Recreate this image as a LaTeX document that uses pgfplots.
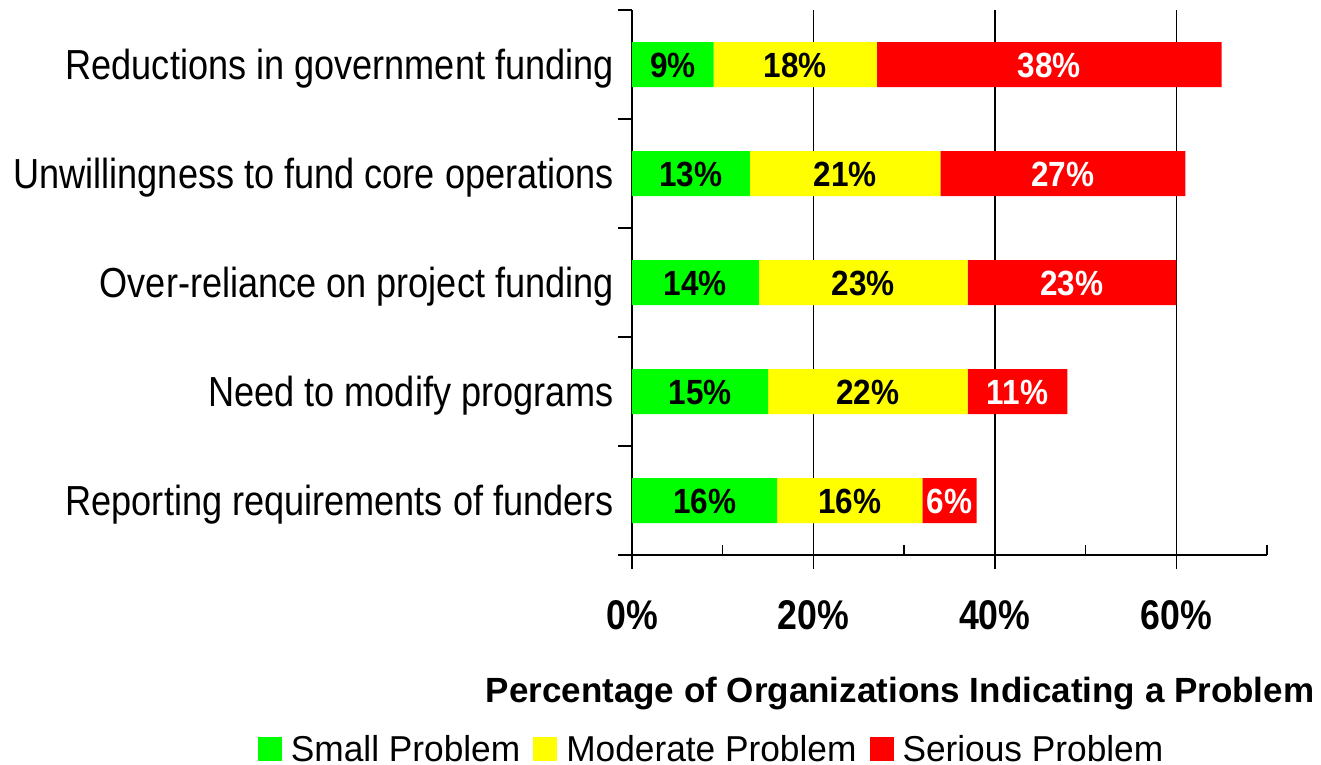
\documentclass[border=0pt]{standalone}
\usepackage{fontspec}
\setmainfont{Liberation Sans}
\newfontfamily\catfont[FakeStretch=0.86]{Liberation Sans}
\newfontfamily\barfont[FakeStretch=0.9]{Liberation Sans}
\newfontfamily\legfont[FakeStretch=0.98]{Liberation Sans}
\usepackage{pgfplots}
\pgfplotsset{compat=1.18}
\usepackage{pgfplotstable}
\definecolor{cgreen}{RGB}{0,255,0}
\definecolor{cyellow}{RGB}{255,255,0}
\definecolor{cred}{RGB}{255,0,0}
\pgfplotstableread{
y s m r
0 9 18 38
1 13 21 27
2 14 23 23
3 15 22 11
4 16 16 6
}\data
\pgfplotsset{
  lab/.style={
    visualization depends on={rawx \as \myv},
    nodes near coords={\pgfmathprintnumber[fixed,precision=0,assume math mode=true]{\myv}\%},
    every node near coord/.append style={anchor=base, yshift=-12.5bp,
      font=\barfont\bfseries\fontsize{35bp}{40bp}\selectfont, inner sep=0pt, text=#1}},
  sq/.style={legend image code/.code={\fill[#1] (0bp,-12bp) rectangle (24bp,12bp);}},
}
\begin{document}
\begin{tikzpicture}
\useasboundingbox (-632bp,-210bp) rectangle (689bp,555bp);
\begin{axis}[
  at={(0,0)}, anchor=south west,
  scale only axis, width=635bp, height=545bp,
  xbar stacked, bar width=45bp,
  xmin=0, xmax=70, ymin=-0.5, ymax=4.5, y dir=reverse,
  axis lines=left, axis line style={-, line width=2bp},
  xtick={0,20,40,60}, xticklabels={0\%,20\%,40\%,60\%},
  minor xtick={10,30,50,70},
  xmajorgrids, major grid style={black, line width=1.5bp},
  tick align=outside,
  major tick length=14bp, minor tick length=-10bp,
  tick style={black, line width=1.5bp},
  ytick={-0.5,0.5,...,4.5}, yticklabels={},
  extra y ticks={0,1,2,3,4},
  extra y tick labels={Reductions in government funding, Unwillingness to fund core operations, Over-reliance on project funding, Need to modify programs, Reporting requirements of funders},
  extra y tick style={tick style={draw=none}, yticklabel style={anchor=base east, inner sep=0pt, xshift=-4bp, yshift=-15bp, font=\catfont\fontsize{42bp}{48bp}\selectfont}},
  xticklabel style={anchor=base, inner sep=0pt, yshift=-60bp, font=\catfont\bfseries\fontsize{41.5bp}{48bp}\selectfont},
  xlabel={Percentage of Organizations Indicating a Problem},
  xlabel style={at={(axis description cs:0.422,-0.270)}, anchor=base, inner sep=0pt, font=\bfseries\fontsize{35bp}{40bp}\selectfont},
  legend columns=3,
  legend style={at={(axis description cs:0.1254,-0.3555)}, anchor=center, draw=none, fill=none,
    font=\legfont\fontsize{36bp}{40bp}\selectfont,
    /tikz/every odd column/.append style={column sep=7bp},
    /tikz/every even column/.append style={column sep=11bp}},
  legend cell align=left,
]
\addplot[fill=cgreen, draw=none, sq=cgreen, lab=black] table[x=s, y=y]{\data};
\addplot[fill=cyellow, draw=none, sq=cyellow, lab=black] table[x=m, y=y]{\data};
\addplot[fill=cred, draw=none, sq=cred, lab=white] table[x=r, y=y]{\data};
\legend{Small Problem, Moderate Problem, Serious Problem}
\end{axis}
\end{tikzpicture}
\end{document}
